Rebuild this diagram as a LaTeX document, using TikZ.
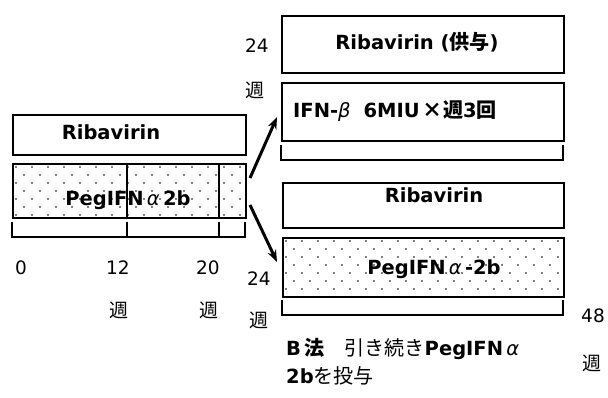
\documentclass[tikz,border=0pt]{standalone}
\usepackage{fontspec}
\setmainfont{DejaVu Sans}
\newfontfamily\cjk[Scale=1.03]{Noto Sans CJK JP}
\usetikzlibrary{arrows.meta}
\newcommand\dotsbox[4]{%
  \begin{scope}
    \clip (#1,#2) rectangle (#3,#4);
    \foreach \r in {0,...,8} {
      \pgfmathsetmacro\yy{#2+4+8*\r}
      \pgfmathsetmacro\off{mod(\r,2)*8}
      \foreach \c in {0,...,18} {
        \fill ({#1+4+\off+16*\c},\yy) circle (0.8pt);
      }
    }
  \end{scope}}
\begin{document}
\begin{tikzpicture}[x=1pt,y=-1pt,
  box/.style={draw, line width=1.6pt, inner sep=0pt, anchor=north west},
  lbl/.style={font=\fontsize{19.5}{21}\selectfont\bfseries, inner sep=0pt, anchor=base},
  lbll/.style={lbl, anchor=base west},
  num/.style={font=\fontsize{18.5}{20}\selectfont, inner sep=0pt, anchor=base},
  wk/.style={font=\cjk\fontsize{18.5}{20}\selectfont, inner sep=0pt},
  brk/.style={line width=1.4pt},
  arr/.style={line width=3pt, -{Stealth[length=12pt,width=9pt]}}]
\useasboundingbox (0,0) rectangle (608,398);
% ---- left part ----
\dotsbox{12}{163}{245}{217}
\node[box, minimum width=233pt, minimum height=40pt] (rib1) at (12,114) {};
\node[box, minimum width=233pt, minimum height=54pt] (peg1) at (12,163) {};
\draw[line width=1.2pt] (127,163) -- (127,217);
\draw[line width=1.6pt] (219,163) -- (219,217);
\node[lbl] (rib1t) at (111,140) {Ribavirin};
\node[lbl] (peg1t) at (128,206) {PegIFN\,{\mdseries\itshape α}\,2b};
\draw[brk] (12,222) -- (12,237) -- (245,237) -- (245,222);
\draw[brk] (127,222) -- (127,237);
\draw[brk] (219,222) -- (219,237);
\node[num] (n0) at (21,275) {0};
\node[num] (n12) at (118,275) {12};
\node[num] (n20) at (208,275) {20};
\node[wk] (w12) at (119,310) {週};
\node[wk] (w20) at (209,310) {週};
% ---- right top ----
\node[box, minimum width=282pt, minimum height=57pt] (rib2) at (281,15) {};
\node[box, minimum width=282pt, minimum height=58pt] (ifn) at (281,82) {};
\node[lbl] (rib2t) at (417,50) {Ribavirin ({\cjk 供与})};
\node[lbll] (ifnt) at (293,118) {IFN-{\mdseries\itshape β}\hspace{13pt}6MIU\,{\cjk ×週}3{\cjk 回}};
\draw[brk] (281,145) -- (281,160) -- (563,160) -- (563,145);
\node[num] (n24a) at (257,53) {24};
\node[wk] (w24a) at (255,90) {週};
% ---- right bottom ----
\dotsbox{282}{237}{563}{296}
\node[box, minimum width=281pt, minimum height=45pt] (rib3) at (282,182) {};
\node[box, minimum width=281pt, minimum height=59pt] (peg2) at (282,237) {};
\node[lbl] (rib3t) at (434,203) {Ribavirin};
\node[lbl] (peg2t) at (434,275) {PegIFN\,{\mdseries\itshape α}\,-2b};
\draw[brk] (282,300) -- (282,315) -- (563,315) -- (563,300);
\node[num] (n24b) at (259,285) {24};
\node[wk] (w24b) at (259,320) {週};
\node[num] (n48) at (593,323) {48};
\node[wk] (w48) at (592,363) {週};
\node[lbll] (bt1) at (286,355) {B\,{\cjk\bfseries 法}\hspace{20pt}{\cjk\mdseries 引き続き}PegIFN\,{\mdseries\itshape α}};
\node[lbll] (bt2) at (286,383) {2b{\cjk\mdseries を投与}};
% ---- arrows ----
\coordinate (a1s) at (250,178);
\coordinate (a1e) at (277,117);
\coordinate (a2s) at (250,205);
\coordinate (a2e) at (277,262);
\draw[arr] (a1s) -- (a1e);
\draw[arr] (a2s) -- (a2e);
\end{tikzpicture}
\end{document}
